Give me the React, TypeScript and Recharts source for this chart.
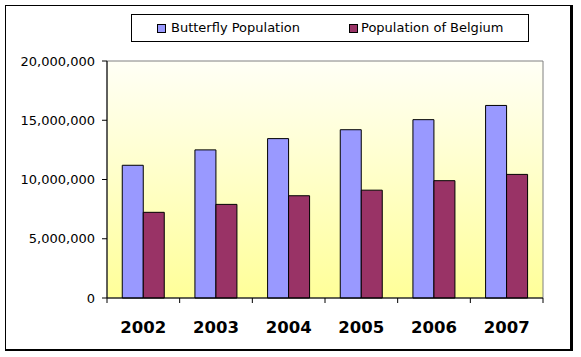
import React from 'react';
import {
    BarChart,
    Bar,
    XAxis,
    YAxis,
    CartesianGrid,
    ReferenceArea,
    Legend,
} from 'recharts';

const years = ['2002', '2003', '2004', '2005', '2006', '2007'];
const butterflyPopulation = [11200000, 12500000, 13450000, 14200000, 15050000, 16250000];
const belgiumPopulation = [7230000, 7900000, 8630000, 9100000, 9900000, 10430000];
const yTicks = [0, 5000000, 10000000, 15000000, 20000000];

const BUTTERFLY = '#9999FF';
const BELGIUM = '#993366';
const FONT = "'DejaVu Sans', Verdana, sans-serif";

const data = years.map((year, i) => ({
    year,
    butterfly: butterflyPopulation[i],
    belgium: belgiumPopulation[i],
}));

const XTick = (props: any) => {
    const { x, y, payload, index, visibleTicksCount } = props;
    const off = payload.offset || 0;
    const axisY = y - 15;
    return (
        <g>
            <line x1={x - off} x2={x - off} y1={axisY} y2={axisY + 5} stroke="#000" />
            {index === visibleTicksCount - 1 && (
                <line x1={x + off} x2={x + off} y1={axisY} y2={axisY + 5} stroke="#000" />
            )}
            <text
                x={x}
                y={y}
                dy={20}
                textAnchor="middle"
                fill="#000"
                style={{ fontFamily: FONT, fontSize: 16.5, fontWeight: 'bold' }}
            >
                {payload.value}
            </text>
        </g>
    );
};

const LegendBox = () => {
    const items = [
        { label: 'Butterfly Population', color: BUTTERFLY, sq: 25, tx: 39 },
        { label: 'Population of Belgium', color: BELGIUM, sq: 217, tx: 229 },
    ];
    return (
        <div
            style={{
                width: 398,
                height: 28,
                boxSizing: 'border-box',
                border: '1px solid #000',
                background: '#fff',
                position: 'relative',
                fontFamily: FONT,
                fontSize: 13,
                color: '#000',
            }}
        >
            {items.map((it) => (
                <React.Fragment key={it.label}>
                    <div
                        style={{
                            position: 'absolute',
                            left: it.sq,
                            top: 9,
                            width: 9,
                            height: 9,
                            boxSizing: 'border-box',
                            border: '1px solid #000',
                            background: it.color,
                        }}
                    />
                    <div
                        style={{
                            position: 'absolute',
                            left: it.tx,
                            top: 5,
                            lineHeight: '16px',
                            whiteSpace: 'nowrap',
                        }}
                    >
                        {it.label}
                    </div>
                </React.Fragment>
            ))}
        </div>
    );
};

export default function App() {
    return (
        <div style={{ position: 'absolute', left: 0, top: 0, width: 581, height: 357, background: '#fff' }}>
            <div
                style={{
                    position: 'absolute',
                    left: 5,
                    top: 5,
                    width: 568,
                    height: 346,
                    boxSizing: 'border-box',
                    borderStyle: 'solid',
                    borderColor: '#000',
                    borderWidth: '1px 3px 2px 1px',
                }}
            />
            <div style={{ position: 'absolute', left: 0, top: 0 }}>
                <BarChart
                    width={581}
                    height={357}
                    data={data}
                    margin={{ top: 61, right: 38, bottom: 9, left: 7 }}
                    barCategoryGap="21%"
                    barGap={0}
                >
                    <defs>
                        <linearGradient id="plotBg" x1="0" y1="0" x2="0" y2="1">
                            <stop offset="0%" stopColor="#FFFFF6" />
                            <stop offset="100%" stopColor="#FFFF99" />
                        </linearGradient>
                    </defs>
                    <ReferenceArea
                        y1={0}
                        y2={20000000}
                        fill="url(#plotBg)"
                        fillOpacity={1}
                        stroke="#808080"
                        strokeWidth={1}
                        ifOverflow="visible"
                    />
                    <CartesianGrid
                        vertical={false}
                        stroke="#000"
                        horizontalValues={[5000000, 10000000, 15000000]}
                    />
                    <XAxis
                        dataKey="year"
                        height={50}
                        axisLine={{ stroke: '#000' }}
                        tickLine={false}
                        tickSize={5}
                        tickMargin={10}
                        tick={<XTick />}
                        interval={0}
                    />
                    <YAxis
                        width={100}
                        domain={[0, 20000000]}
                        ticks={yTicks}
                        interval={0}
                        axisLine={{ stroke: '#000' }}
                        tickLine={{ stroke: '#000' }}
                        tickSize={5}
                        tickMargin={7}
                        tick={{ fill: '#000', fontSize: 13, fontFamily: FONT }}
                        tickFormatter={(v: number) => v.toLocaleString('en-US')}
                    />
                    <Legend
                        layout="horizontal"
                        verticalAlign="middle"
                        align="center"
                        content={<LegendBox />}
                        wrapperStyle={{ position: 'absolute', left: 131, top: 14, width: 398, height: 28 }}
                    />
                    <Bar
                        dataKey="butterfly"
                        name="Butterfly Population"
                        fill={BUTTERFLY}
                        stroke="#000"
                        strokeWidth={1}
                        isAnimationActive={false}
                    />
                    <Bar
                        dataKey="belgium"
                        name="Population of Belgium"
                        fill={BELGIUM}
                        stroke="#000"
                        strokeWidth={1}
                        isAnimationActive={false}
                    />
                </BarChart>
            </div>
        </div>
    );
}
